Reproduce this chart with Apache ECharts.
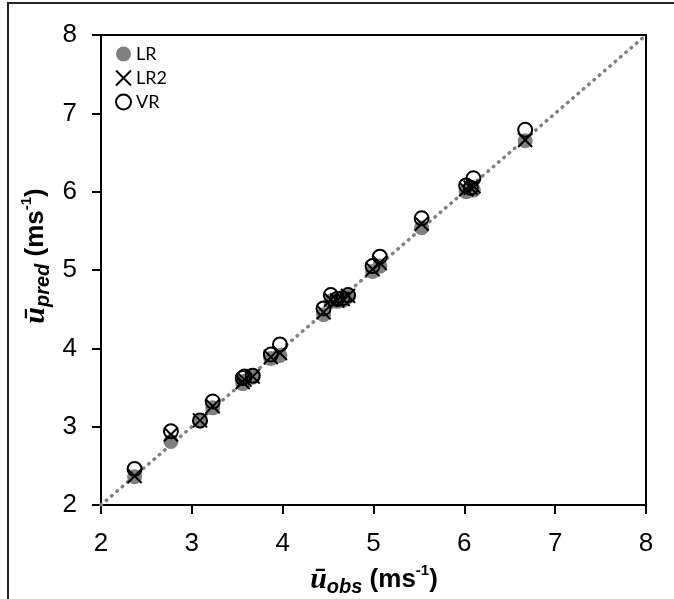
<!DOCTYPE html>
<html>
<head>
<meta charset="utf-8">
<script src="https://cdn.jsdelivr.net/npm/echarts@6/dist/echarts.min.js"></script>
<style>
  html, body { margin: 0; padding: 0; background: #fff; }
  #chart { width: 674px; height: 599px; }
</style>
</head>
<body>
<div id="chart"></div>
<script>
// observed mean wind speed (x) and predictions of each model (y)
const obs = [2.37, 2.77, 3.09, 3.23, 3.56, 3.58, 3.67, 3.87, 3.97, 4.45, 4.53, 4.60, 4.66, 4.72, 4.99, 5.07, 5.53, 6.02, 6.07, 6.10, 6.67];
const predLR = [2.36, 2.81, 3.07, 3.24, 3.55, 3.58, 3.63, 3.87, 3.91, 4.43, 4.60, 4.60, 4.61, 4.66, 4.98, 5.05, 5.54, 6.00, 6.03, 6.02, 6.65];
const predLR2 = [2.37, 2.90, 3.08, 3.26, 3.57, 3.60, 3.64, 3.89, 3.94, 4.46, 4.62, 4.61, 4.63, 4.67, 5.01, 5.09, 5.59, 6.03, 6.05, 6.07, 6.66];
const predVR = [2.46, 2.94, 3.08, 3.32, 3.62, 3.64, 3.65, 3.92, 4.05, 4.51, 4.68, 4.63, 4.64, 4.68, 5.05, 5.17, 5.66, 6.08, 6.05, 6.17, 6.79];
const oneToOne = [2, 8];
const seriesNames = ['LR', 'LR2', 'VR'];

const pairs = (xs, ys) => xs.map((x, i) => [x, ys[i]]);

const crossPath = 'path://M0,0L10,10M10,0L0,10';

const axisCommon = {
  min: 2, max: 8, interval: 1,
  axisLine: { show: true, onZero: false, lineStyle: { color: '#000', width: 2 } },
  axisTick: { show: true, inside: false, length: 9, lineStyle: { color: '#000', width: 2 } },
  splitLine: { show: false },
  axisLabel: { color: '#000', fontFamily: 'Liberation Sans', fontSize: 26 }
};

const titleRich = {
  u: { fontFamily: 'Liberation Serif', fontStyle: 'italic', fontWeight: 'bold', fontSize: 30, lineHeight: 34, color: '#000' },
  sub: { fontFamily: 'Liberation Sans', fontStyle: 'italic', fontWeight: 'bold', fontSize: 20, lineHeight: 18, verticalAlign: 'bottom', color: '#000' },
  t: { fontFamily: 'Liberation Sans', fontWeight: 'bold', fontSize: 26, lineHeight: 34, color: '#000' },
  sup: { fontFamily: 'Liberation Sans', fontWeight: 'bold', fontSize: 15, lineHeight: 15, verticalAlign: 'top', color: '#000' }
};

const option = {
  backgroundColor: '#fff',
  animation: false,
  grid: { left: 101, top: 35, width: 545, height: 470, show: true, borderColor: '#000', borderWidth: 2 },
  xAxis: Object.assign({ type: 'value' }, axisCommon, {
    axisLabel: Object.assign({}, axisCommon.axisLabel, { margin: 26 })
  }),
  yAxis: Object.assign({ type: 'value' }, axisCommon, {
    axisLabel: Object.assign({}, axisCommon.axisLabel, { margin: 24 })
  }),
  legend: {
    data: seriesNames,
    orient: 'vertical',
    left: 110, top: 40,
    itemWidth: 15, itemHeight: 15, itemGap: 6,
    textStyle: { fontFamily: 'Lato', fontSize: 18, color: '#000' }
  },
  graphic: [
    { type: 'rect', shape: { x: 8, y: 3, width: 700, height: 700 }, style: { fill: 'none', stroke: '#222', lineWidth: 2 }, silent: true },
    {
      type: 'text', x: 374, y: 580,
      style: {
        text: '{u|ū}{sub|obs}{t| (ms}{sup|-1}{t|)}',
        rich: titleRich, align: 'center', verticalAlign: 'middle'
      }
    },
    {
      type: 'text', x: 36, y: 256, rotation: Math.PI / 2,
      style: {
        text: '{u|ū}{sub|pred}{t| (ms}{sup|-1}{t|)}',
        rich: titleRich, align: 'center', verticalAlign: 'middle'
      }
    }
  ],
  series: [
    {
      name: '1:1', type: 'line', silent: true, symbol: 'none',
      data: [[oneToOne[0], oneToOne[0]], [oneToOne[1], oneToOne[1]]],
      lineStyle: { color: '#808080', width: 3.5, type: [0.5, 6.5], cap: 'round' },
      z: 1
    },
    {
      name: 'LR', type: 'scatter', symbol: 'circle', symbolSize: 15,
      data: pairs(obs, predLR),
      itemStyle: { color: '#808080', opacity: 1 },
      z: 2
    },
    {
      name: 'LR2', type: 'scatter', symbol: crossPath, symbolSize: 14,
      data: pairs(obs, predLR2),
      itemStyle: { color: 'transparent', borderColor: '#000', borderWidth: 2, opacity: 1 },
      z: 3
    },
    {
      name: 'VR', type: 'scatter', symbol: 'circle', symbolSize: 14,
      data: pairs(obs, predVR),
      itemStyle: { color: 'transparent', borderColor: '#000', borderWidth: 2, opacity: 1 },
      z: 4
    }
  ]
};

const chart = echarts.init(document.getElementById('chart'), null, { renderer: 'canvas' });
chart.setOption(option);
</script>
</body>
</html>
